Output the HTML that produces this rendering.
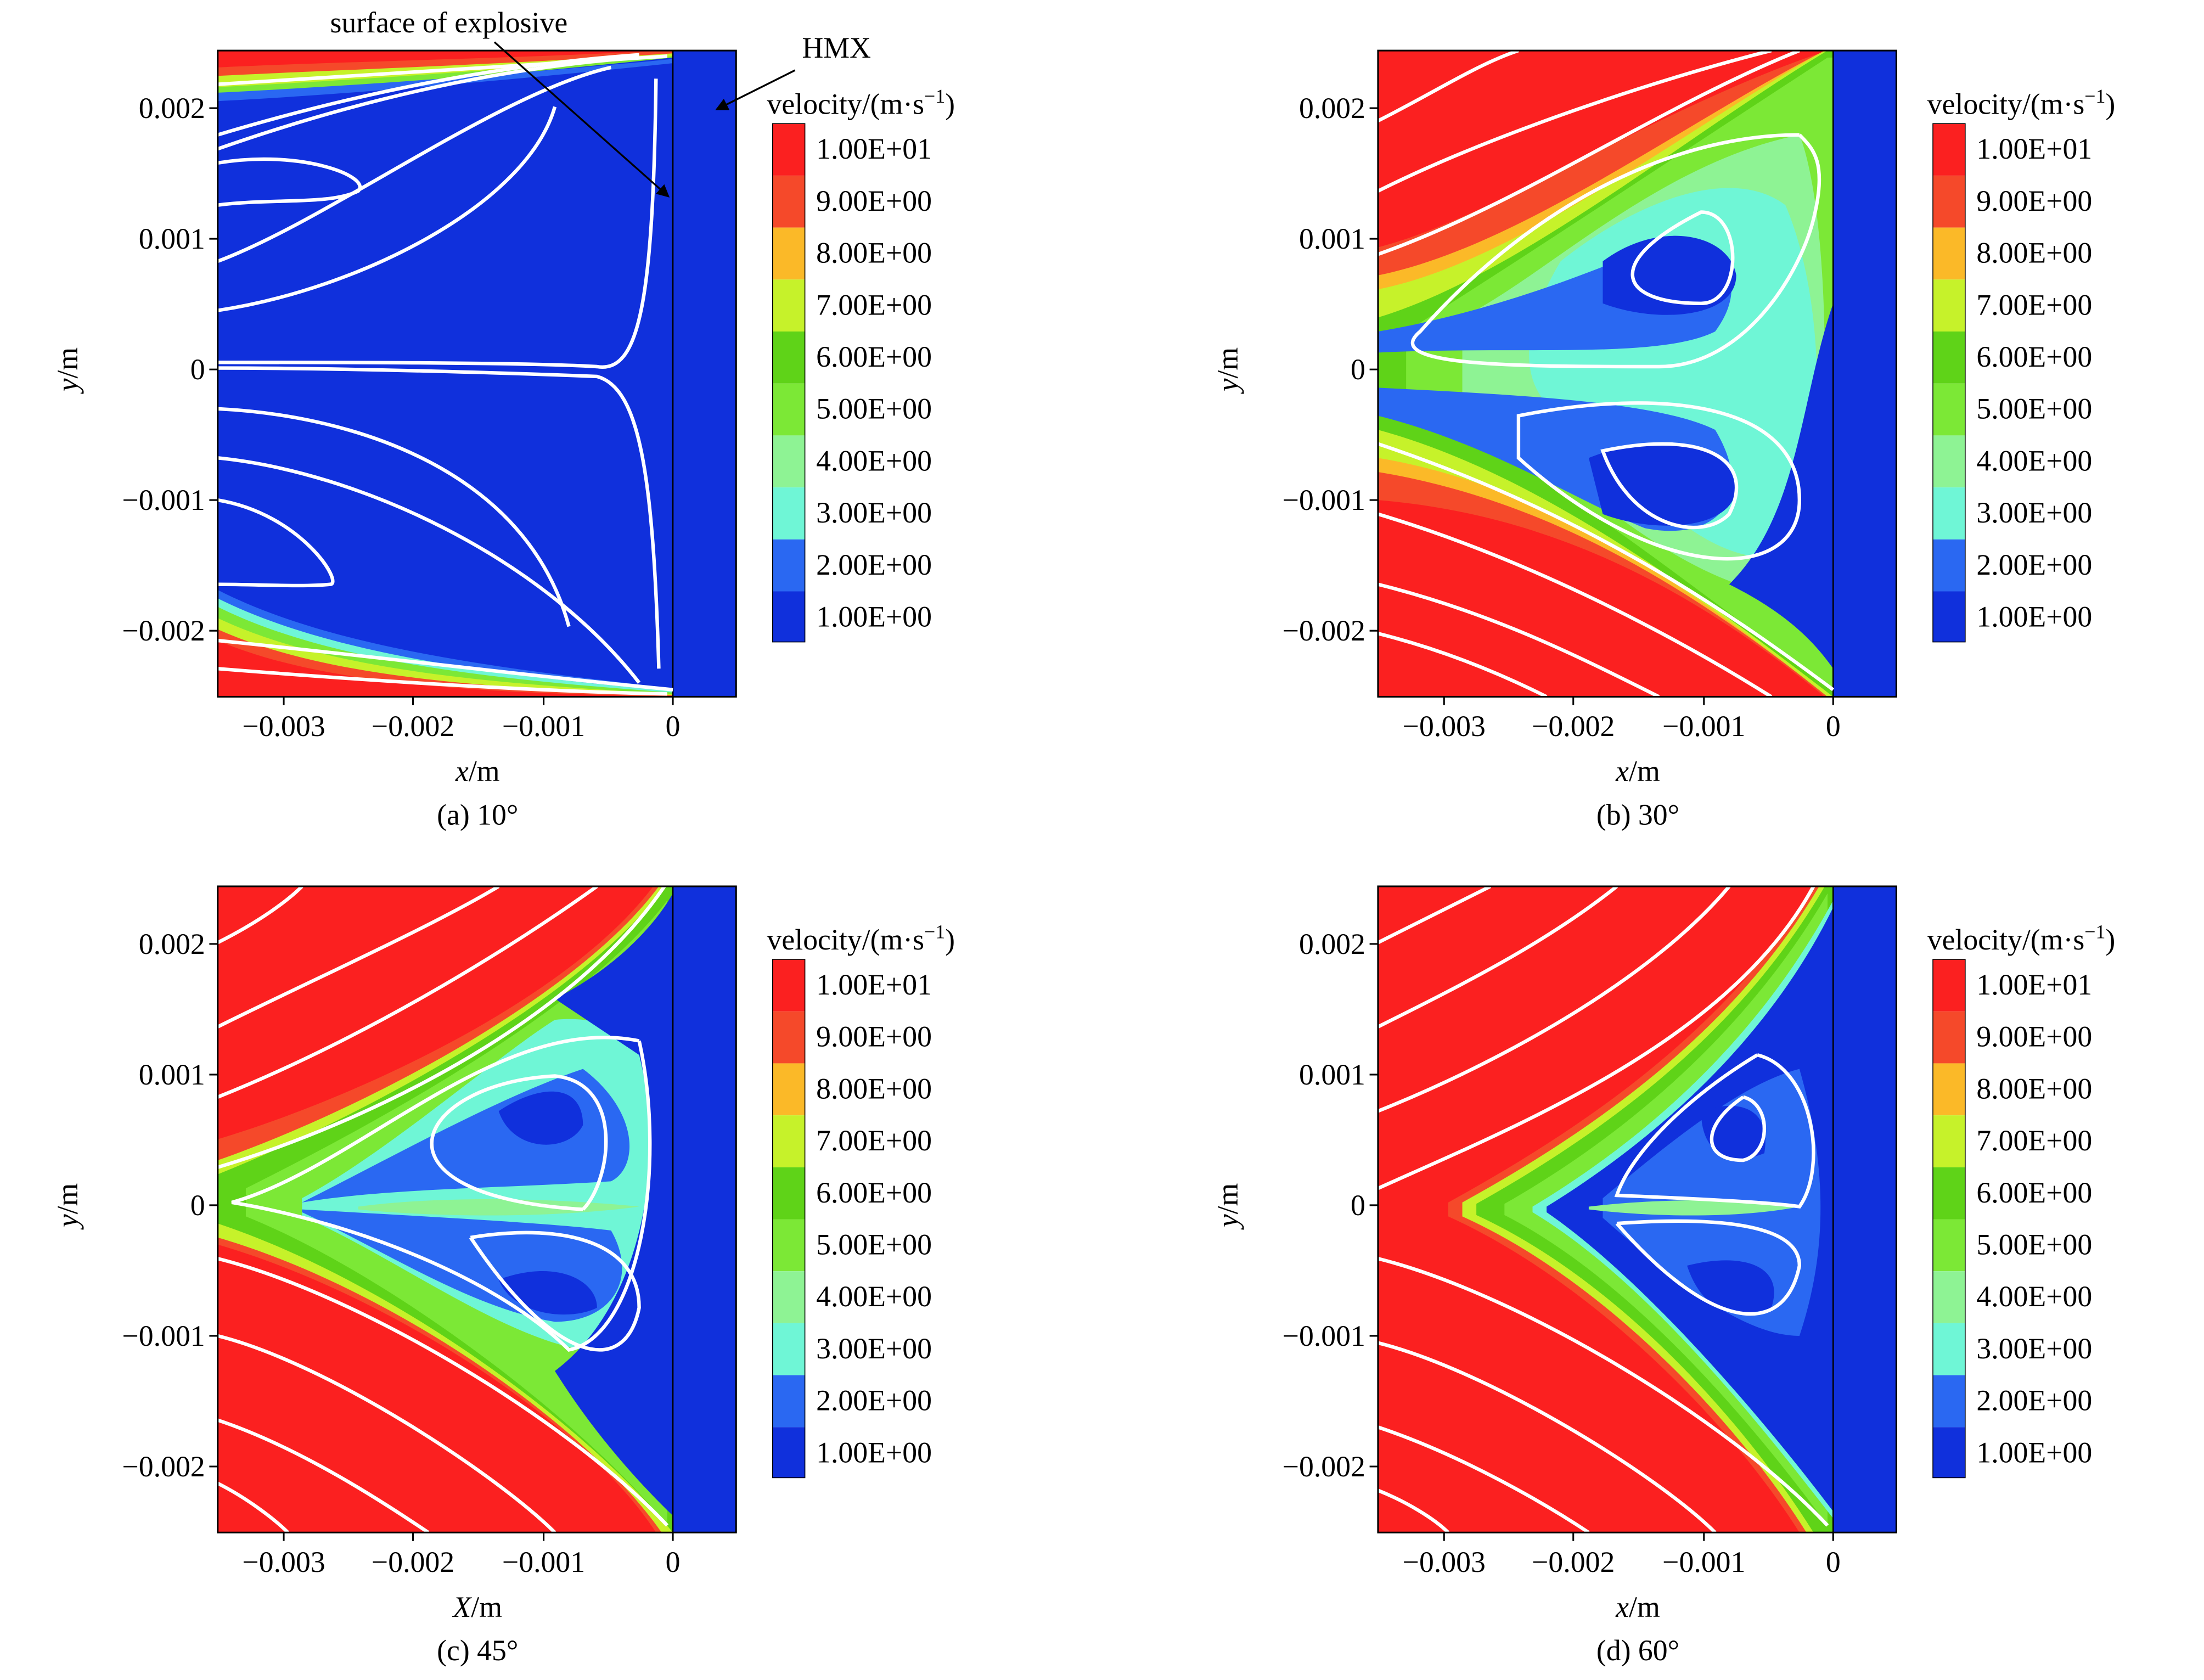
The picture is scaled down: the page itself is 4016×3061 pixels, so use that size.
<!DOCTYPE html>
<html><head><meta charset="utf-8"><style>
html,body{margin:0;padding:0;background:#fff}
svg{display:block}
text{font-family:"Liberation Serif",serif;fill:#000}
</style></head><body>
<svg width="4016" height="3061" viewBox="0 0 1569 1196" preserveAspectRatio="none" xmlns="http://www.w3.org/2000/svg">
<defs>
<marker id="ak" viewBox="0 0 10 10" refX="9" refY="5" markerWidth="7" markerHeight="7" orient="auto"><path d="M0,0 L10,5 L0,10 z" fill="#000"/></marker>
<g id="cbar">
<rect x="0" y="0" width="23" height="37" fill="#fb2020"/>
<rect x="0" y="37" width="23" height="37" fill="#f5492a"/>
<rect x="0" y="74" width="23" height="37" fill="#fbb928"/>
<rect x="0" y="111" width="23" height="37" fill="#c6f22a"/>
<rect x="0" y="148" width="23" height="37" fill="#5fd318"/>
<rect x="0" y="185" width="23" height="37" fill="#7ce836"/>
<rect x="0" y="222" width="23" height="37" fill="#8ef394"/>
<rect x="0" y="259" width="23" height="37" fill="#6ff6d6"/>
<rect x="0" y="296" width="23" height="37" fill="#2a68f2"/>
<rect x="0" y="333" width="23" height="36" fill="#1030dc"/>
</g>
</defs>

<!-- PANEL A -->
<g transform="translate(155,36)">
<rect x="0" y="0" width="369" height="460" fill="#1030dc"/>
<path d="M0,0 H324 V5 C200,18 80,28 0,32 Z" fill="#7ce836"/>
<path d="M0,0 H324 V4 C200,14 80,22 0,26 Z" fill="#c6f22a"/>
<path d="M0,0 H324 V2 C200,10 80,14 0,18 Z" fill="#f5492a"/>
<path d="M0,0 H320 C200,6 80,8 0,12 Z" fill="#fb2020"/>
<path d="M0,30 C80,26 200,18 324,6 V9 C200,22 80,32 0,36Z" fill="#2a68f2"/>
<path d="M0,460 H324 V454 C200,440 80,425 0,384 Z" fill="#2a68f2"/>
<path d="M0,460 H324 V456 C200,445 80,430 0,390 Z" fill="#6ff6d6"/>
<path d="M0,460 H324 V457 C200,448 80,436 0,396 Z" fill="#7ce836"/>
<path d="M0,460 H324 V458 C200,451 80,442 0,404 Z" fill="#c6f22a"/>
<path d="M0,460 H324 V459 C200,454 80,448 0,412 Z" fill="#f5492a"/>
<path d="M0,460 H320 C200,457 80,454 0,420 Z" fill="#fb2020"/>
<rect x="324" y="0" width="45" height="460" fill="#1030dc"/>
<line x1="324" y1="0" x2="324" y2="460" stroke="#000" stroke-width="1"/>
<g fill="none" stroke="#fff" stroke-width="2.5">
<path d="M320,4 C200,12 80,18 0,24"/>
<path d="M0,222 C100,222 220,222 270,225 C300,230 310,180 312,20"/>
<path d="M0,226 C100,226 220,230 270,232 C300,240 310,300 314,440"/>
<path d="M0,80 C60,70 110,90 100,100 C80,110 40,105 0,110"/>
<path d="M0,150 C80,120 200,30 280,12"/>
<path d="M0,185 C100,170 220,110 240,40"/>
<path d="M0,255 C100,260 220,300 250,410"/>
<path d="M0,290 C100,300 230,360 300,450"/>
<path d="M0,320 C60,330 90,380 80,380 C60,382 30,380 0,380"/>
<path d="M0,420 C100,430 220,445 324,455"/>
<path d="M0,440 C100,448 220,456 320,458"/>
<path d="M0,70 C100,35 200,12 300,5"/>
<path d="M0,60 C100,30 200,10 300,3"/>
</g>
</g>

<!-- PANEL B -->
<g transform="translate(981,36)">
<rect x="0" y="0" width="369" height="460" fill="#fb2020"/>
<path d="M0,140 C80,120 200,40 320,0 H324 V460 H318 C220,380 120,330 0,320Z" fill="#f5492a"/>
<path d="M0,160 C100,140 220,50 318,0 H324 V460 H320 C220,380 120,320 0,300Z" fill="#fbb928"/>
<path d="M0,170 C100,150 220,55 318,0 H324 V460 H320 C220,380 120,310 0,290Z" fill="#c6f22a"/>
<path d="M0,190 C100,160 220,60 320,0 H324 V460 C220,380 110,300 0,270Z" fill="#5fd318"/>
<path d="M20,200 C100,150 220,70 320,5 H324 V455 C220,380 110,290 20,250Z" fill="#7ce836"/>
<path d="M60,190 C120,160 200,80 300,60 C324,120 324,320 300,390 C200,380 120,280 60,250Z" fill="#8ef394"/>
<path d="M130,150 C180,110 250,80 290,110 C320,180 320,300 290,360 C230,370 180,300 130,260 C100,240 100,200 130,150Z" fill="#6ff6d6"/>
<path d="M0,200 C60,190 120,170 170,150 C240,120 270,160 240,200 C200,220 100,210 0,215Z" fill="#2a68f2"/>
<path d="M0,240 C100,245 200,250 240,270 C270,320 240,350 190,340 C140,320 80,280 0,260Z" fill="#2a68f2"/>
<path d="M160,150 C200,120 250,130 255,160 C255,190 200,195 160,180Z" fill="#1030dc"/>
<path d="M150,290 C200,270 250,280 255,310 C255,340 200,345 160,330Z" fill="#1030dc"/>
<path d="M250,380 C290,400 310,420 324,440 V180 C300,250 300,330 250,380Z" fill="#1030dc"/>
<rect x="324" y="0" width="45" height="460" fill="#1030dc"/>
<line x1="324" y1="0" x2="324" y2="460" stroke="#000"/>
<g fill="none" stroke="#fff" stroke-width="2.5">
<path d="M300,60 C200,60 100,120 30,200 C0,225 100,225 200,225 C260,225 300,160 310,120 C320,80 310,70 300,60"/>
<path d="M100,260 C200,240 300,250 300,320 C300,380 200,380 100,290 Z"/>
<path d="M230,115 C260,115 260,180 230,180 C170,180 160,150 230,115Z"/>
<path d="M160,285 C230,270 270,290 250,330 C230,350 180,340 160,285Z"/>
<path d="M0,100 C80,60 200,20 280,0"/>
<path d="M0,145 C100,110 200,40 300,0"/>
<path d="M0,50 C40,30 70,10 100,0"/>
<path d="M324,455 C250,400 150,330 0,280"/>
<path d="M280,460 C200,410 100,360 0,330"/>
<path d="M200,460 C140,430 80,400 0,380"/>
<path d="M120,460 C80,440 40,425 0,415"/>
</g>
</g>

<!-- PANEL C -->
<g transform="translate(155,631)">
<rect x="0" y="0" width="369" height="460" fill="#fb2020"/>
<path d="M0,180 C100,150 250,80 310,0 H324 V460 H312 C260,380 120,290 0,255Z" fill="#f5492a"/>
<path d="M0,195 C100,160 255,80 314,0 H324 V460 H316 C260,380 120,285 0,250Z" fill="#c6f22a"/>
<path d="M0,205 C100,165 260,80 318,0 H324 V460 C260,380 120,280 0,240Z" fill="#5fd318"/>
<path d="M20,215 C100,175 260,90 320,10 V455 C260,380 120,275 20,235Z" fill="#7ce836"/>
<path d="M60,222 C120,190 200,120 240,95 C290,90 320,120 320,180 C320,260 300,300 260,330 C200,320 120,260 60,235Z" fill="#6ff6d6"/>
<path d="M60,225 C120,195 200,150 260,130 C300,160 300,200 280,210 C200,215 120,215 60,225Z" fill="#2a68f2"/>
<path d="M60,230 C150,235 240,240 280,245 C300,280 280,310 240,310 C180,300 120,260 60,232Z" fill="#2a68f2"/>
<path d="M100,228 C160,220 240,222 300,228 C240,236 160,236 100,230Z" fill="#8ef394"/>
<path d="M200,160 C230,140 260,140 260,170 C250,190 210,190 200,160Z" fill="#1030dc"/>
<path d="M200,280 C240,265 270,280 270,300 C250,310 210,305 200,280Z" fill="#1030dc"/>
<path d="M240,80 C280,60 310,30 324,5 V448 C295,420 265,385 240,345 C300,300 320,200 300,120 Z" fill="#1030dc"/>
<rect x="324" y="0" width="45" height="460" fill="#1030dc"/>
<line x1="324" y1="0" x2="324" y2="460" stroke="#000"/>
<g fill="none" stroke="#fff" stroke-width="2.5">
<path d="M300,110 C200,90 100,200 10,225 C100,240 200,280 250,330 C300,320 320,200 300,110"/>
<path d="M260,230 C100,220 140,140 240,135 C290,140 280,210 260,230"/>
<path d="M180,250 C240,240 300,250 300,300 C290,350 240,340 180,250"/>
<path d="M0,200 C100,170 250,100 318,0"/>
<path d="M0,150 C100,110 200,50 270,0"/>
<path d="M0,100 C60,70 150,30 200,0"/>
<path d="M0,40 C30,25 50,10 60,0"/>
<path d="M0,265 C100,290 250,380 320,455"/>
<path d="M0,320 C80,340 200,420 240,460"/>
<path d="M0,380 C60,400 120,440 150,460"/>
<path d="M0,425 C20,435 40,450 50,460"/>
</g>
</g>

<!-- PANEL D -->
<g transform="translate(981,631)">
<rect x="0" y="0" width="369" height="460" fill="#fb2020"/>
<path d="M50,225 C150,170 250,100 310,0 H324 V460 H300 C250,380 150,280 50,235Z" fill="#f5492a"/>
<path d="M60,225 C160,170 255,100 314,0 H324 V460 H305 C255,380 160,280 60,235Z" fill="#c6f22a"/>
<path d="M70,226 C170,170 260,100 318,0 H324 V460 H310 C260,380 170,280 70,234Z" fill="#5fd318"/>
<path d="M90,226 C180,175 265,100 320,5 V455 C265,380 180,280 90,234Z" fill="#7ce836"/>
<path d="M110,228 C190,180 270,110 324,10 V450 C270,380 190,280 110,232Z" fill="#6ff6d6"/>
<path d="M120,228 C190,185 275,115 324,15 V445 C275,380 190,280 120,232Z" fill="#1030dc"/>
<path d="M160,222 C210,180 260,140 300,130 C320,200 320,260 300,320 C260,320 210,280 160,236Z" fill="#2a68f2"/>
<path d="M150,228 C200,222 260,222 300,228 C260,236 200,236 150,230Z" fill="#8ef394"/>
<path d="M230,160 C260,150 280,160 275,190 C250,200 230,190 230,160Z" fill="#1030dc"/>
<path d="M220,270 C260,260 290,270 280,300 C250,310 230,300 220,270Z" fill="#1030dc"/>
<rect x="324" y="0" width="45" height="460" fill="#1030dc"/>
<line x1="324" y1="0" x2="324" y2="460" stroke="#000"/>
<g fill="none" stroke="#fff" stroke-width="2.5">
<path d="M270,120 C220,150 180,190 170,220 C220,222 280,225 300,228 C320,200 310,130 270,120"/>
<path d="M170,240 C240,235 300,240 300,270 C290,320 240,320 170,240"/>
<path d="M260,150 C230,170 230,195 260,195 C280,190 280,155 260,150"/>
<path d="M0,215 C100,170 250,110 310,0"/>
<path d="M0,160 C100,120 200,60 250,0"/>
<path d="M0,100 C60,70 120,40 170,0"/>
<path d="M0,40 C30,25 60,10 80,0"/>
<path d="M0,265 C100,290 250,380 320,455"/>
<path d="M0,325 C80,345 200,420 240,460"/>
<path d="M0,385 C60,405 120,440 150,460"/>
<path d="M0,430 C20,438 40,450 50,460"/>
</g>
</g>

<g fill="none" stroke="#000" stroke-width="1.2">
<rect x="155" y="36" width="369" height="460"/><rect x="981" y="36" width="369" height="460"/>
<rect x="155" y="631" width="369" height="460"/><rect x="981" y="631" width="369" height="460"/>
<path d="M155,77h-6M155,170h-6M155,263h-6M155,356h-6M155,449h-6M202,496v6M294,496v6M387,496v6M479,496v6"/>
<path d="M981,77h-6M981,170h-6M981,263h-6M981,356h-6M981,449h-6M1028,496v6M1120,496v6M1213,496v6M1305,496v6"/>
<path d="M155,672h-6M155,765h-6M155,858h-6M155,951h-6M155,1044h-6M202,1091v6M294,1091v6M387,1091v6M479,1091v6"/>
<path d="M981,672h-6M981,765h-6M981,858h-6M981,951h-6M981,1044h-6M1028,1091v6M1120,1091v6M1213,1091v6M1305,1091v6"/>
</g>
<g font-size="21" text-anchor="end">
<text x="146" y="84">0.002</text><text x="146" y="177">0.001</text><text x="146" y="270">0</text><text x="146" y="363">−0.001</text><text x="146" y="456">−0.002</text>
<text x="972" y="84">0.002</text><text x="972" y="177">0.001</text><text x="972" y="270">0</text><text x="972" y="363">−0.001</text><text x="972" y="456">−0.002</text>
<text x="146" y="679">0.002</text><text x="146" y="772">0.001</text><text x="146" y="865">0</text><text x="146" y="958">−0.001</text><text x="146" y="1051">−0.002</text>
<text x="972" y="679">0.002</text><text x="972" y="772">0.001</text><text x="972" y="865">0</text><text x="972" y="958">−0.001</text><text x="972" y="1051">−0.002</text>
</g>
<g font-size="21" text-anchor="middle">
<text x="202" y="524">−0.003</text><text x="294" y="524">−0.002</text><text x="387" y="524">−0.001</text><text x="479" y="524">0</text>
<text x="1028" y="524">−0.003</text><text x="1120" y="524">−0.002</text><text x="1213" y="524">−0.001</text><text x="1305" y="524">0</text>
<text x="202" y="1119">−0.003</text><text x="294" y="1119">−0.002</text><text x="387" y="1119">−0.001</text><text x="479" y="1119">0</text>
<text x="1028" y="1119">−0.003</text><text x="1120" y="1119">−0.002</text><text x="1213" y="1119">−0.001</text><text x="1305" y="1119">0</text>
<text x="340" y="556"><tspan font-style="italic">x</tspan>/m</text><text x="1166" y="556"><tspan font-style="italic">x</tspan>/m</text>
<text x="340" y="1151"><tspan font-style="italic">X</tspan>/m</text><text x="1166" y="1151"><tspan font-style="italic">x</tspan>/m</text>
<text x="340" y="587">(a) 10°</text><text x="1166" y="587">(b) 30°</text>
<text x="340" y="1182">(c) 45°</text><text x="1166" y="1182">(d) 60°</text>
<text transform="translate(55,263) rotate(-90)"><tspan font-style="italic">y</tspan>/m</text>
<text transform="translate(881,263) rotate(-90)"><tspan font-style="italic">y</tspan>/m</text>
<text transform="translate(55,858) rotate(-90)"><tspan font-style="italic">y</tspan>/m</text>
<text transform="translate(881,858) rotate(-90)"><tspan font-style="italic">y</tspan>/m</text>
</g>

<g font-size="21">
<g transform="translate(550,88)"><use href="#cbar"/><rect width="23" height="369" fill="none" stroke="#000" stroke-width="0.6"/>
<text x="-4" y="-7">velocity/(m·s<tspan font-size="14" dy="-8">−1</tspan><tspan dy="8">)</tspan></text>
<text x="31" y="25">1.00E+01</text><text x="31" y="62">9.00E+00</text><text x="31" y="99">8.00E+00</text><text x="31" y="136">7.00E+00</text><text x="31" y="173">6.00E+00</text><text x="31" y="210">5.00E+00</text><text x="31" y="247">4.00E+00</text><text x="31" y="284">3.00E+00</text><text x="31" y="321">2.00E+00</text><text x="31" y="358">1.00E+00</text></g>
<g transform="translate(1376,88)"><use href="#cbar"/><rect width="23" height="369" fill="none" stroke="#000" stroke-width="0.6"/>
<text x="-4" y="-7">velocity/(m·s<tspan font-size="14" dy="-8">−1</tspan><tspan dy="8">)</tspan></text>
<text x="31" y="25">1.00E+01</text><text x="31" y="62">9.00E+00</text><text x="31" y="99">8.00E+00</text><text x="31" y="136">7.00E+00</text><text x="31" y="173">6.00E+00</text><text x="31" y="210">5.00E+00</text><text x="31" y="247">4.00E+00</text><text x="31" y="284">3.00E+00</text><text x="31" y="321">2.00E+00</text><text x="31" y="358">1.00E+00</text></g>
<g transform="translate(550,683)"><use href="#cbar"/><rect width="23" height="369" fill="none" stroke="#000" stroke-width="0.6"/>
<text x="-4" y="-7">velocity/(m·s<tspan font-size="14" dy="-8">−1</tspan><tspan dy="8">)</tspan></text>
<text x="31" y="25">1.00E+01</text><text x="31" y="62">9.00E+00</text><text x="31" y="99">8.00E+00</text><text x="31" y="136">7.00E+00</text><text x="31" y="173">6.00E+00</text><text x="31" y="210">5.00E+00</text><text x="31" y="247">4.00E+00</text><text x="31" y="284">3.00E+00</text><text x="31" y="321">2.00E+00</text><text x="31" y="358">1.00E+00</text></g>
<g transform="translate(1376,683)"><use href="#cbar"/><rect width="23" height="369" fill="none" stroke="#000" stroke-width="0.6"/>
<text x="-4" y="-7">velocity/(m·s<tspan font-size="14" dy="-8">−1</tspan><tspan dy="8">)</tspan></text>
<text x="31" y="25">1.00E+01</text><text x="31" y="62">9.00E+00</text><text x="31" y="99">8.00E+00</text><text x="31" y="136">7.00E+00</text><text x="31" y="173">6.00E+00</text><text x="31" y="210">5.00E+00</text><text x="31" y="247">4.00E+00</text><text x="31" y="284">3.00E+00</text><text x="31" y="321">2.00E+00</text><text x="31" y="358">1.00E+00</text></g>
</g>

<text x="235" y="23" font-size="21">surface of explosive</text>
<line x1="352" y1="30" x2="476" y2="140" stroke="#000" stroke-width="1.3" marker-end="url(#ak)"/>
<text x="571" y="41" font-size="21">HMX</text>
<line x1="566" y1="50" x2="510" y2="78" stroke="#000" stroke-width="1.3" marker-end="url(#ak)"/>
</svg>
</body></html>
